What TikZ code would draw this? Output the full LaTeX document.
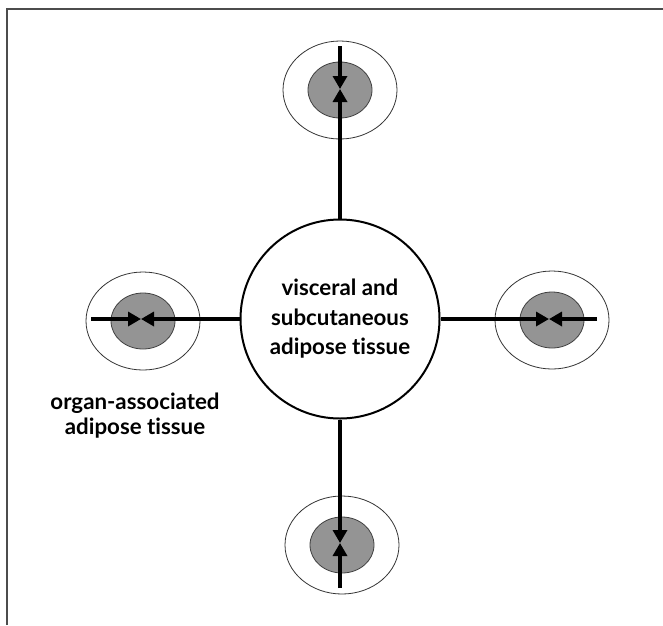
\documentclass[tikz,border=0pt]{standalone}
\usepackage{fontspec}
\setmainfont{Lato}[Ligatures={NoCommon,NoRare,NoContextual}]
\usetikzlibrary{arrows.meta,shapes.geometric}
\tikzset{
  outerring/.style={ellipse, draw=black!80, line width=0.8pt, minimum width=114pt, minimum height=98pt, inner sep=0pt},
  innercore/.style={ellipse, draw=black!75, fill=black!42, line width=0.8pt, minimum width=64pt, minimum height=56pt, inner sep=0pt},
  hub/.style={circle, draw=black, line width=2pt, fill=white, minimum size=199pt, inner sep=0pt, align=center, font=\bfseries\fontsize{22.3}{29.5}\selectfont},
  link/.style={line width=4pt, -{Triangle[length=13pt,width=14pt]}},
  lbl/.style={align=center, font=\bfseries\fontsize{22.3}{25}\selectfont}
}
\begin{document}
\begin{tikzpicture}[x=1pt,y=-1pt]
\useasboundingbox (0,0) rectangle (663,625);
\draw[line width=2pt, black!70] (7,625) -- (7,9) -- (663,9);
% satellites
\node[outerring] (ot) at (340,90) {};
\node[innercore] (it) at (340,90) {};
\node[outerring] (ol) at (143,321) {};
\node[innercore] (il) at (143,321) {};
\node[outerring] (or) at (552,320) {};
\node[innercore] (ir) at (552,320) {};
\node[outerring] (ob) at (342,545) {};
\node[innercore] (ib) at (342,545) {};
% hub
\node[hub] (c) at (340,319) {visceral and\\subcutaneous\\adipose tissue};
% end points
\coordinate (tE) at (340,46);
\coordinate (tM) at (340,89);
\coordinate (lE) at (91,319);
\coordinate (lM) at (141,319);
\coordinate (rE) at (597,319);
\coordinate (rM) at (549,319);
\coordinate (bE) at (340,588);
\coordinate (bM) at (340,543);
\draw[link] (tE) -- (tM);
\draw[link] (c.north) -- (tM);
\draw[link] (lE) -- (lM);
\draw[link] (c.west) -- (lM);
\draw[link] (rE) -- (rM);
\draw[link] (c.east) -- (rM);
\draw[link] (bE) -- (bM);
\draw[link] (c.south) -- (bM);
\node[lbl] (lab) at (135,416) {organ-associated\\adipose tissue};
\end{tikzpicture}
\end{document}
